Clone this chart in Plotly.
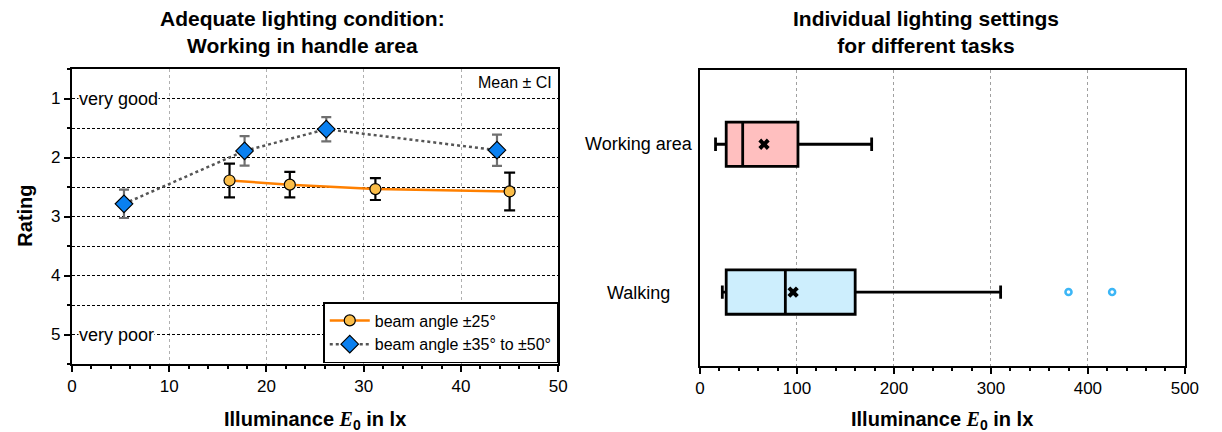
import plotly.graph_objects as go

W, H = 1222, 432

# ---------------- data: left chart ----------------
narrow_x = [16.2, 22.4, 31.2, 45.0]
narrow_y = [2.39, 2.46, 2.535, 2.575]
narrow_ci = [0.285, 0.215, 0.185, 0.32]

wide_x = [5.35, 17.75, 26.15, 43.7]
wide_y = [2.785, 1.888, 1.52, 1.876]
wide_ci = [0.24, 0.25, 0.205, 0.265]

rating_ticks = [1, 2, 3, 4, 5]

# ---------------- data: right chart ----------------
tasks = ["Working area", "Walking"]
box_low = [16, 23]
box_q1 = [27, 27]
box_median = [44, 88]
box_q3 = [101, 160]
box_high = [177, 310]
box_mean = [66, 96]
walking_outliers = [380, 425]

FONT = "Liberation Sans, Arial, sans-serif"

def px_x(p):
    return p / W

def px_y(p):
    return 1 - p / H

fig = go.Figure()

fig.add_trace(go.Scatter(
    x=narrow_x, y=narrow_y, mode="lines+markers", name="beam angle ±25°",
    line=dict(color="#ff8000", width=2.5),
    marker=dict(symbol="circle", size=11, color="#fbbd48", line=dict(color="black", width=1.2)),
    error_y=dict(type="data", array=narrow_ci, visible=True, color="black", thickness=2.2, width=5.5),
    xaxis="x", yaxis="y"))
fig.add_trace(go.Scatter(
    x=wide_x, y=wide_y, mode="lines+markers", name="beam angle ±35° to ±50°",
    line=dict(color="#555555", width=2.5, dash="dot"),
    marker=dict(symbol="diamond", size=13.5, color="#0a80f0", line=dict(color="black", width=1.2)),
    error_y=dict(type="data", array=wide_ci, visible=True, color="#707070", thickness=2.2, width=5),
    xaxis="x", yaxis="y"))

fills = ["#ffbfbf", "#cdeefd"]
for i, t in enumerate(tasks):
    fig.add_trace(go.Box(
        y=[t], q1=[box_q1[i]], median=[box_median[i]], q3=[box_q3[i]],
        lowerfence=[box_low[i]], upperfence=[box_high[i]],
        orientation="h", fillcolor=fills[i], line=dict(color="black", width=2.8),
        width=0.3, whiskerwidth=0.3, boxpoints=False, showlegend=False,
        xaxis="x2", yaxis="y2"))
fig.add_trace(go.Scatter(
    x=box_mean, y=tasks, mode="markers", showlegend=False,
    marker=dict(symbol="x", size=10, color="black", line=dict(width=0)),
    xaxis="x2", yaxis="y2"))
fig.add_trace(go.Scatter(
    x=walking_outliers, y=[tasks[1]] * len(walking_outliers), mode="markers", showlegend=False,
    marker=dict(symbol="circle-open", size=6, color="#3cb6f6", line=dict(width=2.6, color="#3cb6f6")),
    xaxis="x2", yaxis="y2"))

left_dom = [px_x(68), px_x(562)]
left_ydom = [px_y(364), px_y(69)]
right_dom = [px_x(706), px_x(1198.5)]
right_ydom = [px_y(366), px_y(70.3)]

tickfont = dict(family=FONT, size=17, color="black")

fig.update_layout(
    width=W, height=H,
    margin=dict(l=0, r=0, t=0, b=0),
    paper_bgcolor="white", plot_bgcolor="white",
    font=dict(family=FONT, color="black"),
    boxmode="overlay",
    xaxis=dict(domain=left_dom, range=[0, 50], dtick=10, tick0=0,
               ticks="outside", ticklen=6, tickwidth=1.5, tickcolor="black",
               showline=True, linecolor="black", linewidth=2, mirror=True,
               showgrid=True, gridcolor="#b0b0b0", griddash="dot", gridwidth=1,
               zeroline=False, tickfont=tickfont,
               minor=dict(dtick=2, ticks="outside", ticklen=3, tickcolor="black", showgrid=False)),
    yaxis=dict(domain=left_ydom, range=[5.5, 0.5], tickvals=rating_ticks,
               ticks="outside", ticklen=6, tickwidth=1.5, tickcolor="black",
               showline=True, linecolor="black", linewidth=2, mirror=True,
               showgrid=True, gridcolor="black", griddash="3px,2px", gridwidth=1,
               zeroline=False, tickfont=tickfont,
               minor=dict(dtick=0.5, tick0=0.5, ticks="outside", ticklen=3, tickcolor="black",
                          showgrid=True, gridcolor="black", griddash="3px,2px", gridwidth=1)),
    xaxis2=dict(domain=right_dom, range=[0, 500], dtick=100, tick0=0, anchor="y2",
                ticks="outside", ticklen=6, tickwidth=1.5, tickcolor="black",
                showline=True, linecolor="black", linewidth=2, mirror=True,
                showgrid=True, gridcolor="#a0a0a0", griddash="dot", gridwidth=1,
                zeroline=False, tickfont=tickfont,
                minor=dict(dtick=20, ticks="outside", ticklen=3, tickcolor="black", showgrid=False)),
    yaxis2=dict(domain=right_ydom, type="category", categoryorder="array", categoryarray=tasks,
                range=[1.5, -0.5], anchor="x2", showticklabels=False, ticks="",
                showline=True, linecolor="black", linewidth=2, mirror=True,
                showgrid=False, zeroline=False),
    legend=dict(x=px_x(562), xanchor="right", y=px_y(363), yanchor="bottom",
                bgcolor="white", bordercolor="black", borderwidth=1.5,
                font=dict(family=FONT, size=16, color="black"),
                tracegroupgap=0, itemwidth=40),
)

ann = []
ann.append(dict(text="<b>Adequate lighting condition:<br>Working in handle area</b>",
                x=px_x(302), y=px_y(32), xref="paper", yref="paper", showarrow=False,
                xanchor="center", yanchor="middle", font=dict(family=FONT, size=21)))
ann.append(dict(text="<b>Individual lighting settings<br>for different tasks</b>",
                x=px_x(936), y=px_y(32), xref="paper", yref="paper", showarrow=False,
                xanchor="center", yanchor="middle", font=dict(family=FONT, size=21)))
xt = "<b>Illuminance <i><span style='font-family:Liberation Serif, Times New Roman, serif'>E</span></i><sub>0</sub> in lx</b>"
ann.append(dict(text=xt, x=px_x(315), y=px_y(420), xref="paper", yref="paper", showarrow=False,
                xanchor="center", yanchor="middle", font=dict(family=FONT, size=20)))
ann.append(dict(text=xt, x=px_x(952), y=px_y(420), xref="paper", yref="paper", showarrow=False,
                xanchor="center", yanchor="middle", font=dict(family=FONT, size=20)))
ann.append(dict(text="<b>Rating</b>", x=px_x(20), y=px_y(216), xref="paper", yref="paper",
                showarrow=False, textangle=-90, xanchor="center", yanchor="middle",
                font=dict(family=FONT, size=20)))
ann.append(dict(text="very good", x=0.6, y=1, xref="x", yref="y", showarrow=False,
                xanchor="left", yanchor="middle", bgcolor="white", borderpad=0,
                font=dict(family=FONT, size=18)))
ann.append(dict(text="very poor", x=0.6, y=5, xref="x", yref="y", showarrow=False,
                xanchor="left", yanchor="middle", bgcolor="white", borderpad=0,
                font=dict(family=FONT, size=18)))
ann.append(dict(text="Mean ± CI", x=px_x(558), y=px_y(82), xref="paper", yref="paper",
                showarrow=False, xanchor="right", yanchor="middle",
                font=dict(family=FONT, size=16)))
for t, yc in zip(tasks, [144, 293]):
    ann.append(dict(text=t, x=px_x(644), y=px_y(yc), xref="paper", yref="paper",
                    showarrow=False, xanchor="center", yanchor="middle",
                    font=dict(family=FONT, size=18)))
fig.update_layout(annotations=ann)

page_fix = """
document.documentElement.style.margin='0';
document.body.style.margin='0';
document.documentElement.style.overflow='hidden';
document.body.style.overflow='hidden';
"""
fig.write_html("out.html", config={"displayModeBar": False}, post_script=page_fix)
